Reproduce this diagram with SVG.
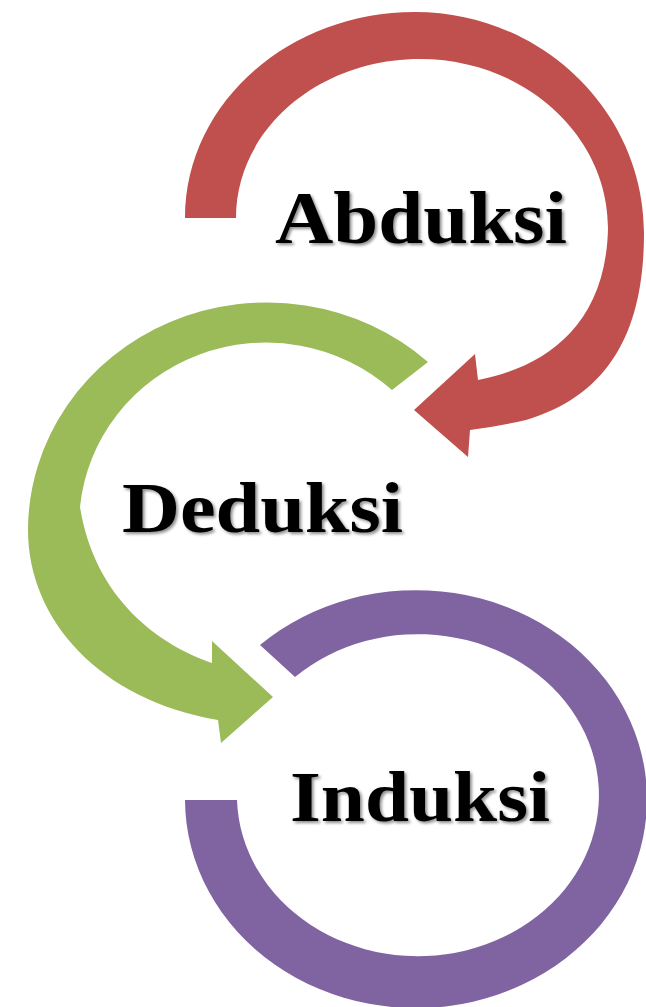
<svg xmlns="http://www.w3.org/2000/svg" width="646" height="1007" viewBox="0 0 646 1007">
  <defs>
    <filter id="shadow" x="-10%" y="-20%" width="130%" height="150%">
      <feDropShadow dx="2" dy="2" stdDeviation="1.5" flood-color="#000" flood-opacity="0.45"/>
    </filter>
    <style>
      .lbl { font-family: "Liberation Serif", "Times New Roman", serif; font-weight: bold; fill: #000; filter: url(#shadow); }
      .red { fill: #C0504D; }
      .green { fill: #9BBB59; }
      .purple { fill: #8064A2; }
    </style>
  </defs>
  <rect width="646" height="1007" fill="#fff"/>
  <g id="connectors">
    <path id="arrow-abduksi" class="red" d="M185,218 C185,104 288,12 415,12 C542,12 644,112 644,233 C644,330 610,395 526,420 Q500,426 470,430 L468,457 L414,410 L475,354 L478,380 C540,368 606,330 608,228 C608,135 524,59 420,59 C318,59 236,130 236,218 Z"/>
    <path id="arrow-deduksi" class="green" d="M428,362 A239,228 0 0 0 28,530 C28,620 100,700 218,720 L221,743 L273,697 L212,641 L212,663 C160,645 95,600 80,507 A187,182 0 0 1 392,390 Z"/>
    <path id="arrow-induksi" class="purple" d="M260,645 A231,209 0 1 1 185,800 L237,800 A181,161 0 1 0 295,677 Z"/>
  </g>
  <g id="node-abduksi">
    <text class="lbl" x="275" y="243" font-size="73" textLength="292" lengthAdjust="spacingAndGlyphs">Abduksi</text>
  </g>
  <g id="node-deduksi">
    <text class="lbl" x="122" y="532" font-size="72" textLength="281" lengthAdjust="spacingAndGlyphs">Deduksi</text>
  </g>
  <g id="node-induksi">
    <text class="lbl" x="290" y="821" font-size="72" textLength="260" lengthAdjust="spacingAndGlyphs">Induksi</text>
  </g>
</svg>
